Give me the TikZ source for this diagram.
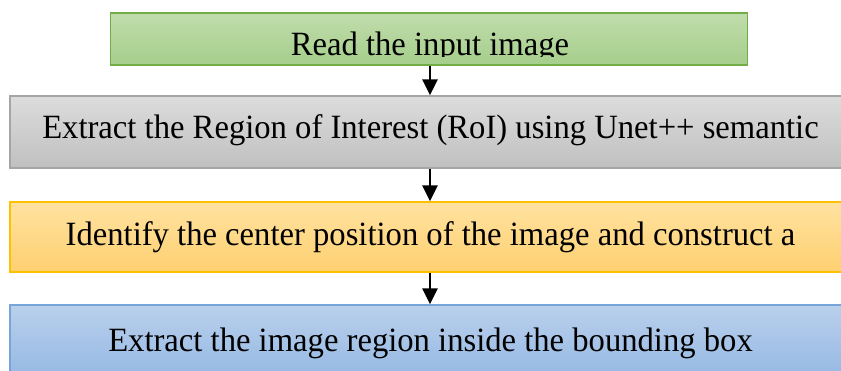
\documentclass[tikz,border=0pt]{standalone}
\usepackage{fontspec}
\setmainfont{Liberation Serif}
\usetikzlibrary{arrows.meta}

\definecolor{greenline}{RGB}{112,173,71}
\definecolor{greentop}{RGB}{192,221,172}
\definecolor{greenbot}{RGB}{166,206,139}
\definecolor{grayline}{RGB}{165,165,165}
\definecolor{graytop}{RGB}{220,220,220}
\definecolor{graybot}{RGB}{192,192,192}
\definecolor{orangeline}{RGB}{255,192,0}
\definecolor{orangetop}{RGB}{255,226,160}
\definecolor{orangebot}{RGB}{254,208,112}
\definecolor{blueline}{RGB}{120,165,215}
\definecolor{bluetop}{RGB}{186,208,236}
\definecolor{bluebot}{RGB}{150,185,228}

\newcommand{\squeeze}[1]{\scalebox{0.96}[1]{#1}}

\begin{document}
\begin{tikzpicture}[x = 1pt, y = 1pt, % one unit per pixel
                > = {Triangle[length=16pt, width=15pt]}, % arrow head style
                line width = 2.5pt
            ]

            \tikzset{box/.style = {rectangle, draw, line width = 1.3pt,
            inner sep = 0pt}, words/.style = {font = \fontsize{34}{36}\selectfont,
            inner sep = 0pt, anchor = base}}

            \clip (0,0) rectangle (841,-371);

            % boxes
            \node (1) [box, draw = greenline, top color = greentop, bottom
                color = greenbot, minimum width = 637pt, minimum height = 52pt]
            at (429,-39) {};
            \node (2) [box, draw = grayline, top color = graytop, bottom color
                = graybot, minimum width = 840pt, minimum height = 72pt] at
            (430,-132) {};
            \node (3) [box, draw = orangeline, top color = orangetop, bottom
                color = orangebot, minimum width = 840pt, minimum height =
            70pt] at (430,-237) {};
            \node (4) [box, draw = blueline, top color = bluetop, bottom color
                = bluebot, minimum width = 840pt, minimum height = 70pt] at
            (430,-340) {};

            % texts
            \begin{scope}
                \clip (1.north west) rectangle (1.east |- 0,-56.5);
                \node (1t) [words] at (430,-55.5) {\squeeze{Read the input image}};
            \end{scope}
            \node (2t) [words] at (430.5,-139) {\squeeze{Extract the Region of
            Interest (RoI) using Unet++ semantic}};
            \node (3t) [words] at (430.5,-245.5) {\squeeze{Identify the center
            position of the image and construct a}};
            \node (4t) [words] at (430.5,-352) {\squeeze{Extract the image region
            inside the bounding box}};

            % arrows
            \draw[->] (1.south -| 430,0) -- (430,0 |- 2.north);
            \draw[->] (2.south -| 430,0) -- (430,0 |- 3.north);
            \draw[->] (3.south -| 430,0) -- (430,0 |- 4.north);
\end{tikzpicture}
\end{document}
